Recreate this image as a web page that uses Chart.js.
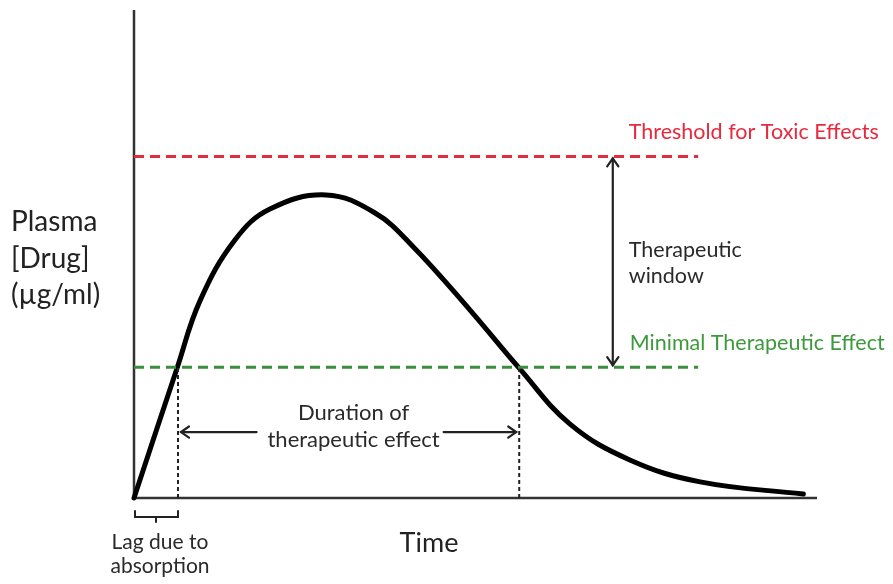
<!DOCTYPE html>
<html lang="en">
<head>
<meta charset="UTF-8">
<title>Plasma drug concentration</title>
<style>
  body { margin: 0; background: #fff; }
  #wrap { width: 893px; height: 584px; }
</style>
</head>
<body>
<div id="wrap"><canvas id="pkChart" width="893" height="584"></canvas></div>
<script src="https://cdn.jsdelivr.net/npm/chart.js"></script>
<script>
// time (arbitrary units, 0-100) and plasma concentration (arbitrary, 0-100)
const timeVals = [0, 6.3, 9.66, 14.8, 19.9, 28.1, 35.3, 40.8, 49.2, 56.4, 63.8, 72.6, 82.9, 98.0];
const concVals = [0, 26.6, 40.4, 52.9, 59.2, 62.1, 58.4, 51.6, 38.5, 26.6, 15.2, 7.8, 3.3, 0.8];

const toxicLevel = 70;       // threshold for toxic effects
const minEffective = 26.8;   // minimal therapeutic effect
const levelLineEnd = 82.6;   // where the dashed level lines stop
const onsetTime = 6.44;
const offsetTime = 56.4;
const windowX = 70.1;        // position of the therapeutic window arrow
const durationY = 13.5;      // height of the duration arrow

const pts = timeVals.map((t, i) => ({ x: t, y: concVals[i] }));

const FONT = 'Lato, "Open Sans", sans-serif';

function arrowHead(ctx, x, y, dir, size) {
  ctx.beginPath();
  if (dir === 'left')  { ctx.moveTo(x + size, y - size * 0.7); ctx.lineTo(x, y); ctx.lineTo(x + size, y + size * 0.7); }
  if (dir === 'right') { ctx.moveTo(x - size, y - size * 0.7); ctx.lineTo(x, y); ctx.lineTo(x - size, y + size * 0.7); }
  if (dir === 'up')    { ctx.moveTo(x - size * 0.7, y + size); ctx.lineTo(x, y); ctx.lineTo(x + size * 0.7, y + size); }
  if (dir === 'down')  { ctx.moveTo(x - size * 0.7, y - size); ctx.lineTo(x, y); ctx.lineTo(x + size * 0.7, y - size); }
  ctx.stroke();
}

const annotations = {
  id: 'annotations',
  beforeDatasetsDraw(chart) {
    const { ctx, chartArea: a } = chart;
    ctx.save();
    ctx.strokeStyle = '#333';
    ctx.lineWidth = 2.5;
    ctx.beginPath();
    ctx.moveTo(a.left, a.top);
    ctx.lineTo(a.left, a.bottom);
    ctx.lineTo(a.right, a.bottom);
    ctx.stroke();
    ctx.restore();
  },
  afterDatasetsDraw(chart) {
    const { ctx, chartArea: a, scales: { x, y } } = chart;
    const xOn = x.getPixelForValue(onsetTime);
    const xOff = x.getPixelForValue(offsetTime);
    const yTox = y.getPixelForValue(toxicLevel);
    const yMin = y.getPixelForValue(minEffective);
    const yDur = y.getPixelForValue(durationY);
    const xWin = x.getPixelForValue(windowX);
    const mid = (xOn + xOff) / 2 + 5;

    ctx.save();
    ctx.strokeStyle = '#222';
    ctx.lineWidth = 2.2;
    ctx.lineCap = 'round';

    // duration arrows
    ctx.beginPath();
    ctx.moveTo(xOn + 3, yDur); ctx.lineTo(mid - 97, yDur);
    ctx.moveTo(mid + 90, yDur); ctx.lineTo(xOff - 3, yDur);
    ctx.stroke();
    arrowHead(ctx, xOn + 3, yDur, 'left', 8);
    arrowHead(ctx, xOff - 3, yDur, 'right', 8);

    // therapeutic window double arrow
    ctx.beginPath();
    ctx.moveTo(xWin, yTox + 2); ctx.lineTo(xWin, yMin - 2);
    ctx.stroke();
    arrowHead(ctx, xWin, yTox + 2, 'up', 8);
    arrowHead(ctx, xWin, yMin - 2, 'down', 8);

    // lag bracket
    const bTop = a.bottom + 13, bBot = a.bottom + 19;
    ctx.lineWidth = 2;
    ctx.beginPath();
    ctx.moveTo(a.left + 1, bTop); ctx.lineTo(a.left + 1, bBot);
    ctx.lineTo(xOn, bBot); ctx.lineTo(xOn, bTop);
    ctx.moveTo((a.left + xOn) / 2, bBot); ctx.lineTo((a.left + xOn) / 2, bBot + 5);
    ctx.stroke();

    // texts
    ctx.textBaseline = 'alphabetic';
    ctx.fillStyle = '#2a2a2a';
    ctx.textAlign = 'center';
    ctx.font = '22px ' + FONT;
    ctx.fillText('Duration of', mid, 420);
    ctx.fillText('therapeutic effect', mid, 447);

    ctx.font = '21px ' + FONT;
    ctx.fillText('Lag due to', (a.left + xOn) / 2 + 4, 549);
    ctx.fillText('absorption', (a.left + xOn) / 2 + 4, 573);

    ctx.fillStyle = '#222';
    ctx.font = '27px ' + FONT;
    ctx.fillText('Time', 429, 552);

    ctx.textAlign = 'left';
    ctx.font = '28px ' + FONT;
    ctx.fillText('Plasma', 11, 231);
    ctx.fillText('[Drug]', 11, 268);
    ctx.fillText('(\u00b5g/ml)', 11, 304);

    ctx.font = '21.5px ' + FONT;
    ctx.fillStyle = '#2a2a2a';
    ctx.fillText('Therapeutic', xWin + 16, 257);
    ctx.fillText('window', xWin + 16, 283);

    ctx.fillStyle = '#e8283c';
    ctx.fillText('Threshold for Toxic Effects', xWin + 16, yTox - 17);
    ctx.fillStyle = '#3c9a3c';
    ctx.fillText('Minimal Therapeutic Effect', xWin + 17, yMin - 17);
    ctx.restore();
  }
};

new Chart(document.getElementById('pkChart').getContext('2d'), {
  type: 'line',
  data: {
    datasets: [
      {
        label: 'Toxic threshold',
        data: [{ x: 0, y: toxicLevel }, { x: levelLineEnd, y: toxicLevel }],
        borderColor: '#e0303f',
        borderWidth: 3,
        borderDash: [10, 6],
        pointRadius: 0,
        clip: false
      },
      {
        label: 'Minimal therapeutic effect',
        data: [{ x: 0, y: minEffective }, { x: levelLineEnd, y: minEffective }],
        borderColor: '#3a8f3a',
        borderWidth: 3,
        borderDash: [10, 6],
        pointRadius: 0,
        clip: false
      },
      {
        label: 'Onset',
        data: [{ x: onsetTime, y: 0 }, { x: onsetTime, y: minEffective }],
        borderColor: '#222',
        borderWidth: 2,
        borderDash: [4, 3],
        pointRadius: 0
      },
      {
        label: 'Offset',
        data: [{ x: offsetTime, y: 0 }, { x: offsetTime, y: minEffective }],
        borderColor: '#222',
        borderWidth: 2,
        borderDash: [4, 3],
        pointRadius: 0
      },
      {
        label: 'Plasma concentration',
        data: pts,
        borderColor: '#000',
        borderWidth: 5,
        tension: 0.4,
        borderCapStyle: 'round',
        pointRadius: 0,
        clip: false
      }
    ]
  },
  options: {
    responsive: false,
    animation: false,
    layout: { padding: { left: 134, top: 10, right: 76, bottom: 86 } },
    scales: {
      x: { type: 'linear', min: 0, max: 100, display: false },
      y: { type: 'linear', min: 0, max: 100, display: false }
    },
    plugins: {
      legend: { display: false },
      tooltip: { enabled: false }
    }
  },
  plugins: [annotations]
});
</script>
</body>
</html>
